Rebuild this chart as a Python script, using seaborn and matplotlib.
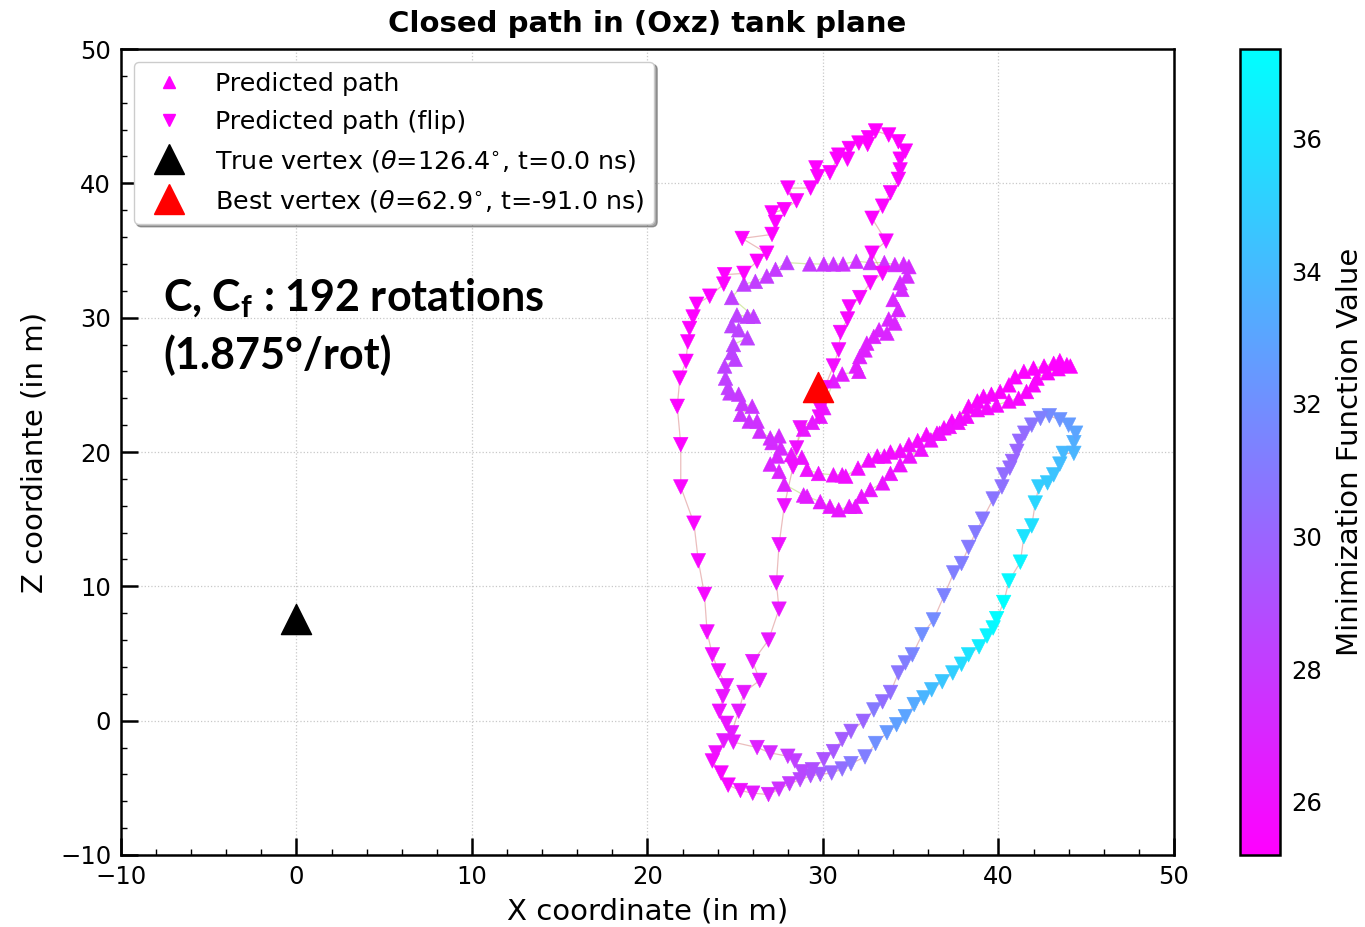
import numpy as np
import matplotlib
matplotlib.use("Agg")
import matplotlib.pyplot as plt
from matplotlib.lines import Line2D
from matplotlib.ticker import MultipleLocator
import seaborn as sns

# ---------------- data ----------------
# "Predicted path (flip)"  (down triangles)
flip_x = [33.0, 33.75, 34.3, 34.7, 34.4, 34.4, 34.3, 33.85, 33.4, 32.8,
          33.6, 32.8, 33.4, 32.7, 32.1, 31.5, 31.4, 31.0, 30.9, 30.6,
          30.1, 29.85, 29.8, 28.7, 28.5, 28.3, 27.8, 27.5, 27.35, 27.5,
          26.9, 26.0, 26.4, 25.5, 25.2, 24.8, 24.35, 23.9, 23.7, 24.2,
          24.6, 25.3, 26.0, 26.9, 27.5, 28.1, 28.7, 29.3, 29.85, 30.5,
          31.1, 31.6, 32.4, 33.0, 33.65, 34.2, 34.7, 35.2, 35.75, 36.2,
          36.8, 37.4, 37.9, 38.3, 38.9, 39.35, 39.7, 39.9, 40.3, 40.6,
          41.25, 41.45, 41.9, 42.1, 42.3, 42.8, 43.15, 43.5, 43.7, 44.3,
          44.3, 44.4, 44.0, 43.5, 42.9, 42.4, 41.9, 41.5, 41.2, 41.05,
          40.8, 40.65, 40.3, 40.2, 39.7, 39.1, 38.7, 38.3, 37.9, 37.45,
          36.9, 36.3, 35.65, 35.1, 34.7, 34.3, 33.85, 33.4, 32.9, 32.3,
          31.6, 31.1, 30.6, 30.05, 29.4, 28.8, 28.4, 28.0, 27.0, 26.25,
          24.9, 24.5, 24.1, 24.3, 24.5, 24.05, 23.7, 23.4, 23.25, 22.9,
          22.65, 21.9, 21.9, 21.7, 21.85, 22.2, 22.3, 22.4, 22.6, 22.8,
          23.55, 24.35, 24.4, 25.5, 26.25, 26.8, 25.4, 27.1, 27.3, 27.1,
          27.8, 28.5, 28.0, 29.3, 29.7, 29.6, 30.4, 30.8, 30.9, 31.4,
          31.5, 32.05, 32.55, 32.6]
flip_z = [43.9, 43.6, 43.1, 42.4, 41.8, 41.0, 40.3, 39.3, 38.3, 37.4,
          35.7, 34.8, 33.3, 32.6, 31.5, 30.8, 29.9, 28.9, 27.6, 26.4,
          24.8, 23.2, 22.6, 21.8, 20.3, 18.9, 16.0, 13.1, 10.25, 8.3,
          6.0, 4.4, 3.0, 2.1, 0.7, -0.9, -1.5, -2.4, -3.0, -3.9,
          -4.8, -5.2, -5.4, -5.5, -5.1, -4.7, -4.4, -4.1, -4.0, -3.9,
          -3.6, -3.2, -2.7, -1.7, -0.9, -0.3, 0.3, 1.2, 1.7, 2.3,
          2.9, 3.55, 4.2, 4.9, 5.5, 6.3, 6.9, 7.6, 8.8, 10.4,
          11.8, 13.7, 14.5, 16.2, 17.4, 17.7, 18.3, 19.1, 19.9, 19.9,
          20.7, 21.4, 22.0, 22.4, 22.7, 22.5, 22.0, 21.4, 20.8, 20.05,
          19.3, 18.8, 18.3, 17.4, 16.5, 15.0, 14.0, 12.9, 11.7, 11.0,
          9.3, 7.5, 6.4, 4.9, 4.3, 3.55, 2.1, 1.4, 0.8, -0.05,
          -0.8, -1.4, -2.3, -2.9, -3.65, -3.8, -3.0, -2.65, -2.4, -2.0,
          -1.6, -0.2, 0.7, 1.8, 2.6, 3.7, 4.9, 6.6, 9.4, 11.9,
          14.7, 17.4, 20.55, 23.4, 25.5, 26.75, 28.2, 29.2, 30.05, 31.0,
          31.6, 32.5, 33.2, 33.3, 34.2, 34.8, 35.9, 36.2, 37.1, 37.8,
          38.05, 38.7, 39.65, 39.65, 40.5, 41.15, 40.8, 41.8, 42.1, 41.8,
          42.6, 43.0, 42.9, 43.4]
flip_f = [25.2, 25.2, 25.2, 25.3, 25.3, 25.4, 25.4, 25.4, 25.4, 25.4,
          25.5, 25.5, 25.6, 25.6, 25.6, 25.6, 25.6, 25.7, 25.7, 25.8,
          25.8, 25.9, 25.9, 26.0, 26.0, 26.0, 26.1, 26.1, 26.2, 26.2,
          26.3, 26.3, 26.4, 26.4, 26.5, 26.5, 26.5, 26.0, 25.8, 25.6,
          25.6, 26.0, 26.5, 27.0, 27.5, 28.0, 28.5, 29.0, 29.5, 30.0,
          30.5, 31.0, 31.2, 32.0, 32.5, 32.8, 33.0, 33.3, 33.8, 34.2,
          34.6, 35.0, 35.6, 36.0, 36.5, 36.8, 37.0, 37.2, 37.35, 37.0,
          36.8, 36.0, 35.8, 35.4, 35.0, 34.8, 34.5, 34.2, 34.0, 33.8,
          33.5, 33.0, 32.6, 32.2, 31.8, 31.3, 30.8, 30.4, 30.2, 30.0,
          30.0, 30.2, 30.4, 30.6, 30.8, 30.9, 31.0, 31.0, 31.2, 31.2,
          31.4, 31.8, 32.0, 31.6, 31.2, 30.8, 30.5, 30.4, 31.0, 30.0,
          29.8, 29.6, 29.4, 29.2, 29.0, 28.6, 28.2, 27.8, 27.2, 26.8,
          26.4, 26.2, 26.0, 26.2, 26.2, 26.0, 25.9, 25.8, 25.7, 25.6,
          25.5, 25.5, 25.4, 25.4, 25.3, 25.3, 25.3, 25.3, 25.3, 25.3,
          25.3, 25.3, 25.3, 25.3, 25.3, 25.3, 25.3, 25.3, 25.3, 25.3,
          25.3, 25.3, 25.3, 25.3, 25.3, 25.3, 25.3, 25.3, 25.3, 25.3,
          25.3, 25.2, 25.2, 25.2]

# "Predicted path"  (up triangles)
path_x = [24.8, 25.5, 26.15, 26.8, 27.3, 27.95, 29.25, 30.05, 30.6, 31.15,
          31.9, 32.7, 33.5, 34.1, 34.6, 34.9, 34.8, 34.4, 34.5, 34.0,
          34.3, 33.75, 34.1, 33.65, 33.2, 32.9, 32.5, 32.4, 32.1, 31.9,
          32.05, 31.1, 30.6, 30.05, 29.85, 29.4, 28.9, 28.2, 28.8, 29.1,
          29.75, 30.6, 31.1, 31.3, 32.0, 32.6, 33.1, 33.5, 33.85, 34.4,
          34.9, 35.4, 35.9, 36.5, 36.9, 37.35, 37.8, 38.3, 38.8, 39.15,
          39.6, 40.1, 40.6, 40.95, 41.45, 42.0, 42.6, 43.15, 43.5, 43.9,
          44.1, 43.4, 42.8, 42.2, 42.0, 41.6, 41.15, 40.6, 39.9, 39.35,
          38.8, 38.2, 37.7, 37.2, 36.65, 36.15, 35.6, 34.95, 34.4, 33.85,
          33.4, 32.7, 32.2, 31.85, 31.5, 30.9, 30.4, 29.85, 29.1, 28.9,
          27.8, 27.5, 27.0, 27.4, 27.6, 27.1, 27.5, 27.0, 26.4, 26.25,
          25.8, 25.3, 25.97, 25.4, 25.2, 24.7, 24.6, 24.45, 24.4, 25.0,
          24.8, 24.9, 25.7, 25.2, 24.8, 25.1, 25.7, 26.05]
path_z = [31.5, 32.5, 32.7, 33.1, 33.6, 34.1, 34.0, 34.0, 34.0, 34.0,
          34.2, 34.1, 34.1, 33.95, 34.0, 33.8, 33.1, 32.6, 32.1, 31.35,
          30.6, 29.9, 29.6, 28.85, 29.1, 28.6, 28.1, 27.6, 27.1, 26.4,
          26.0, 25.8, 25.3, 23.3, 22.65, 22.2, 21.7, 19.8, 19.6, 18.7,
          18.4, 18.3, 18.3, 18.2, 18.8, 19.4, 19.7, 19.7, 20.0, 20.1,
          20.55, 20.85, 21.3, 21.4, 21.8, 22.3, 22.5, 23.4, 23.8, 24.15,
          24.3, 24.5, 25.0, 25.6, 26.0, 26.25, 26.4, 26.6, 26.8, 26.5,
          26.4, 26.2, 25.9, 25.5, 25.0, 24.5, 24.0, 23.8, 23.5, 23.3,
          23.15, 22.65, 22.2, 21.9, 21.4, 20.9, 20.2, 19.7, 19.05, 18.4,
          17.7, 17.2, 16.7, 15.95, 15.95, 15.7, 15.95, 16.3, 16.7, 16.8,
          17.6, 18.55, 19.1, 19.7, 20.3, 20.7, 21.2, 21.05, 21.55, 22.3,
          22.3, 22.8, 23.4, 23.6, 24.3, 24.4, 24.8, 25.5, 26.4, 26.9,
          27.4, 28.0, 28.5, 29.1, 29.4, 30.2, 30.1, 30.1]
path_f = [28.2, 28.2, 28.1, 28.0, 28.0, 28.2, 28.0, 27.8, 27.8, 27.6,
          27.6, 27.4, 27.4, 27.2, 27.2, 27.2, 27.2, 27.2, 27.2, 27.0,
          27.0, 27.0, 27.0, 27.0, 27.0, 26.8, 26.8, 26.8, 26.8, 26.6,
          26.6, 26.6, 26.6, 26.4, 26.4, 26.4, 26.3, 26.2, 26.2, 26.0,
          26.0, 26.0, 26.0, 25.9, 25.9, 25.9, 25.9, 25.8, 25.8, 25.8,
          25.8, 25.7, 25.7, 25.7, 25.6, 25.6, 25.6, 25.5, 25.5, 25.5,
          25.5, 25.4, 25.4, 25.4, 25.4, 25.3, 25.3, 25.3, 25.3, 25.3,
          25.3, 25.3, 25.4, 25.4, 25.5, 25.5, 25.6, 25.6, 25.7, 25.7,
          25.8, 25.8, 25.9, 25.9, 26.0, 26.0, 26.0, 26.1, 26.1, 26.1,
          26.2, 26.2, 26.2, 26.2, 26.3, 26.3, 26.3, 26.4, 26.5, 26.6,
          26.8, 26.9, 27.0, 27.0, 27.1, 27.2, 27.2, 27.3, 27.4, 27.5,
          27.6, 27.7, 27.7, 27.8, 27.9, 28.0, 28.1, 28.2, 28.3, 28.3,
          28.4, 28.4, 28.3, 28.4, 28.4, 28.3, 28.2, 28.2]

true_vertex = (0.0, 7.6)
best_vertex = (29.7, 24.85)

labels = ["Predicted path", "Predicted path (flip)",
          r"True vertex ($\theta$=126.4$^{\circ}$, t=0.0 ns)",
          r"Best vertex ($\theta$=62.9$^{\circ}$, t=-91.0 ns)"]

# ---------------- figure ----------------
sns.set_style("white")
plt.rcParams["font.family"] = ["DejaVu Sans"]
plt.rcParams["axes.unicode_minus"] = True
for key in ["text.color", "axes.labelcolor", "xtick.color", "ytick.color",
            "axes.edgecolor"]:
    plt.rcParams[key] = "black"

fig = plt.figure(figsize=(13.65, 9.27), dpi=100)
ax = fig.add_axes([0.0886, 0.0777, 0.7714, 0.8694])
cax = fig.add_axes([0.9084, 0.0777, 0.0293, 0.8694])

cmap = plt.get_cmap("cool_r")
vmin = min(min(flip_f), min(path_f))
vmax = max(max(flip_f), max(path_f))
norm = matplotlib.colors.Normalize(vmin=vmin, vmax=vmax)

# connecting lines
sns.lineplot(x=np.r_[path_x, path_x[:1]], y=np.r_[path_z, path_z[:1]],
             sort=False, estimator=None, color="yellowgreen", alpha=0.4,
             lw=0.9, ax=ax, zorder=1)
sns.lineplot(x=np.r_[flip_x, flip_x[:1]], y=np.r_[flip_z, flip_z[:1]],
             sort=False, estimator=None, color="indianred", alpha=0.4,
             lw=0.9, ax=ax, zorder=1)

sns.scatterplot(x=path_x, y=path_z, hue=path_f, palette="cool_r",
                hue_norm=(vmin, vmax), marker="^", s=110, edgecolor="face",
                linewidth=0.4, legend=False, ax=ax, zorder=2)
sns.scatterplot(x=flip_x, y=flip_z, hue=flip_f, palette="cool_r",
                hue_norm=(vmin, vmax), marker="v", s=110, edgecolor="face",
                linewidth=0.4, legend=False, ax=ax, zorder=2)

sns.scatterplot(x=[true_vertex[0]], y=[true_vertex[1]], color="black",
                marker="^", s=470, edgecolor="black", linewidth=1,
                legend=False, ax=ax, zorder=3)
sns.scatterplot(x=[best_vertex[0]], y=[best_vertex[1]], color="red",
                marker="^", s=470, edgecolor="red", linewidth=1,
                legend=False, ax=ax, zorder=4)

ax.set_xlim(-10, 50)
ax.set_ylim(-10, 50)
ax.xaxis.set_major_locator(MultipleLocator(10))
ax.yaxis.set_major_locator(MultipleLocator(10))
ax.xaxis.set_minor_locator(MultipleLocator(2))
ax.yaxis.set_minor_locator(MultipleLocator(2))
ax.tick_params(which="major", direction="in", length=12, width=1.8,
               labelsize=17.5, pad=7, bottom=True, left=True,
               top=False, right=False, colors="black")
ax.tick_params(which="minor", direction="in", length=4.5, width=1.0,
               bottom=True, left=True, top=False, right=False)
ax.grid(True, which="major", linestyle=":", color="#c8c8c8", linewidth=0.9)
ax.set_axisbelow(True)
for sp in ax.spines.values():
    sp.set_linewidth(1.8)
    sp.set_color("black")

ax.set_xlabel("X coordinate (in m)", fontsize=21, labelpad=6)
ax.set_ylabel("Z coordiante (in m)", fontsize=21, labelpad=8)
ax.set_title("Closed path in (Oxz) tank plane", fontsize=21,
             fontweight="bold", pad=12)

handles = [
    Line2D([], [], marker="^", ls="", color=cmap(0.0), markersize=9),
    Line2D([], [], marker="v", ls="", color=cmap(0.0), markersize=9),
    Line2D([], [], marker="^", ls="", color="black", markersize=21),
    Line2D([], [], marker="^", ls="", color="red", markersize=21),
]
leg = ax.legend(handles, labels, loc="upper left", fontsize=18.3,
                shadow=True, fancybox=True, framealpha=1.0,
                labelspacing=0.55)

ax.text(0.040, 0.718, "C, C$_\\mathregular{f}$ : 192 rotations\n(1.875°/rot)",
        transform=ax.transAxes, ha="left", va="top", fontsize=31,
        family=["Lato", "DejaVu Sans"], fontweight="bold", linespacing=1.4,
        color="black")

sm = matplotlib.cm.ScalarMappable(norm=norm, cmap=cmap)
sm.set_array([])
cbar = fig.colorbar(sm, cax=cax)
cbar.set_ticks([26, 28, 30, 32, 34, 36])
cbar.ax.yaxis.set_minor_locator(MultipleLocator(0.5))
cbar.ax.tick_params(which="major", direction="in", length=12, width=1.8,
                    labelsize=17.5, pad=8, right=True, left=False)
cbar.ax.tick_params(which="minor", direction="in", length=5, width=1.0,
                    right=True, left=False)
cbar.outline.set_linewidth(1.8)
cbar.outline.set_edgecolor("black")
cbar.set_label("Minimization Function Value", fontsize=21, labelpad=10)

fig.savefig("out.png", dpi=100)
